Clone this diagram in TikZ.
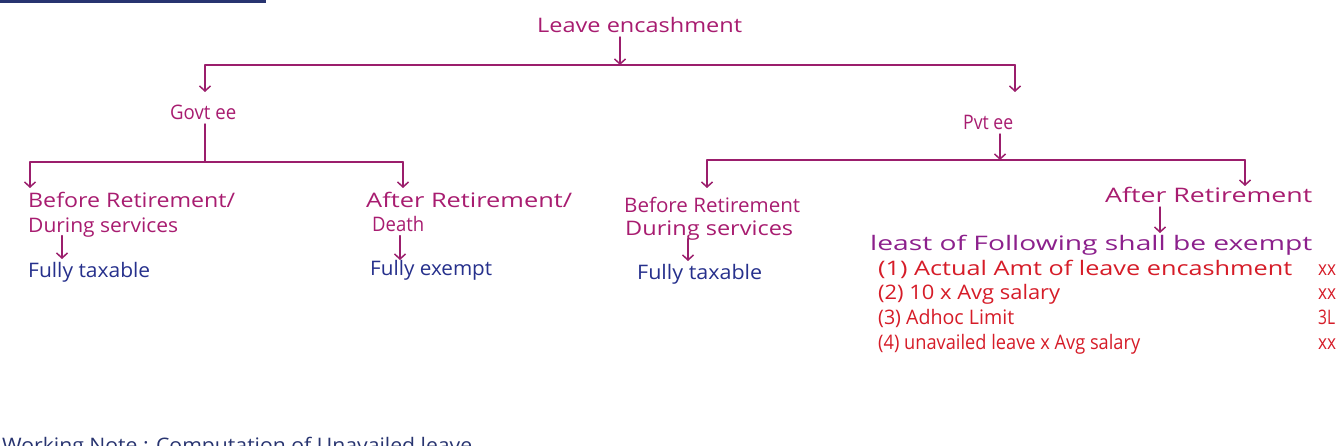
\documentclass[tikz,border=0pt]{standalone}
\usepackage{fontspec}
\setmainfont{Open Sans}
\usepackage{graphicx}
\usetikzlibrary{arrows.meta}

\definecolor{ink}{RGB}{168,28,112}
\definecolor{wirec}{RGB}{155,30,108}
\definecolor{resblue}{RGB}{38,48,140}
\definecolor{condpurple}{RGB}{140,32,140}
\definecolor{itemred}{RGB}{214,28,40}
\definecolor{navy}{RGB}{40,52,112}

% set a text and stretch it horizontally to a given width (in pt)
\newsavebox\hwbox
\newcommand\hw[2]{\sbox\hwbox{#2}\pgfmathsetmacro\hwfac{#1/\the\wd\hwbox}\scalebox{\hwfac}[1]{\usebox\hwbox}}

\tikzset{
  lbl/.style={inner sep=0pt, anchor=mid west, font=\fontsize{20}{24}\selectfont},
  tree/.style={lbl, text=ink},
  res/.style={lbl, text=resblue},
  cond/.style={lbl, text=condpurple},
  item/.style={lbl, text=itemred},
  wire/.style={draw=wirec, line width=1.6pt, line cap=round, line join=round},
  drop/.style={wire, -{Straight Barb[length=5pt,width=11pt,line width=1.5pt]}},
}

\begin{document}
\begin{tikzpicture}[x=1pt, y=-1pt]
\fill[white] (0,0) rectangle (1338,446);
\useasboundingbox (0,0) rectangle (1338,446);

% heading underline and working note at the page edges
\draw[navy, line width=3.5pt] (0,1.5) -- (266,1.5);
\node[lbl, text=navy, anchor=base west] (note) at (2,452) {\hw{470}{Working Note : Computation of Unavailed leave}};

% tree labels
\node[tree] (root) at (537,30) {\hw{205}{Leave encashment}};
\node[tree] (govt) at (170,117) {\hw{66}{Govt ee}};
\node[tree] (pvt)  at (963,127) {\hw{50}{Pvt ee}};

\node[tree] (gb1) at (28,205)  {\hw{207}{Before Retirement/}};
\node[tree] (gb2) at (28,230)  {\hw{150}{During services}};
\node[res]  (gbres) at (28,275) {\hw{122}{Fully taxable}};

\node[tree] (ga1) at (366,205) {\hw{206}{After Retirement/}};
\node[tree] (ga2) at (372,229) {\hw{52}{Death}};
\node[res]  (gares) at (370,273) {\hw{122}{Fully exempt}};

\node[tree] (pb1) at (624,210) {\hw{176}{Before Retirement}};
\node[tree] (pb2) at (625,233) {\hw{168}{During services}};
\node[res]  (pbres) at (637,277) {\hw{125}{Fully taxable}};

\node[tree] (pa) at (1105,200) {\hw{207}{After Retirement}};
\node[cond] (least) at (870,248) {\hw{442}{least of Following shall be exempt}};

\node[item] (i1) at (878,273) {\hw{414}{(1) Actual Amt of leave encashment}};
\node[item] (i2) at (878,297) {\hw{182}{(2) 10 x Avg salary}};
\node[item] (i3) at (878,322) {\hw{136}{(3) Adhoc Limit}};
\node[item] (i4) at (878,347) {\hw{262}{(4) unavailed leave x Avg salary}};
\node[item] (v1) at (1318,273) {\hw{18}{xx}};
\node[item] (v2) at (1318,297) {\hw{18}{xx}};
\node[item] (v3) at (1318,322) {\hw{17}{3L}};
\node[item] (v4) at (1318,347) {\hw{18}{xx}};

% first level
\coordinate (rootdrop) at (620,65);
\coordinate (topL) at (205,65);
\coordinate (topR) at (1015,65);
\coordinate (govtTip) at (205,92);
\coordinate (pvtTip) at (1015,92);
\draw[drop, shorten <=4pt] (rootdrop |- root.south) -- (rootdrop);
\draw[wire] (topL) -- (topR);
\draw[drop] (topL) -- (govtTip);
\draw[drop] (topR) -- (pvtTip);

% government employee branch
\coordinate (gJoin) at (205,162);
\coordinate (gL) at (30,162);
\coordinate (gR) at (403,162);
\draw[wire, shorten <=4pt] (gJoin |- govt.south) -- (gJoin);
\draw[wire] (gL) -- (gR);
\draw[drop] (gL) -- (30,188) coordinate (gbTip);
\draw[drop] (gR) -- (403,188) coordinate (gaTip);
\coordinate (gbResTip) at (62,259);
\coordinate (gaResTip) at (400,260);
\draw[drop, shorten <=3pt] (gbResTip |- gb2.base) -- (gbResTip);
\draw[drop, shorten <=4pt] (gaResTip |- ga2.base) -- (gaResTip);

% private employee branch
\coordinate (pJoin) at (1000,160);
\coordinate (pL) at (707,160);
\coordinate (pR) at (1245,160);
\draw[drop, shorten <=4pt] (pJoin |- pvt.south) -- (pJoin);
\draw[wire] (pL) -- (pR);
\draw[drop] (pL) -- (707,188) coordinate (pbTip);
\draw[drop] (pR) -- (1245,186) coordinate (paTip);
\coordinate (pbResTip) at (688,261);
\coordinate (paTip2) at (1160,233);
\draw[drop, shorten <=3pt] (pbResTip |- pb2.base) -- (pbResTip);
\draw[drop, shorten <=4pt] (paTip2 |- pa.south) -- (paTip2);
\end{tikzpicture}
\end{document}
